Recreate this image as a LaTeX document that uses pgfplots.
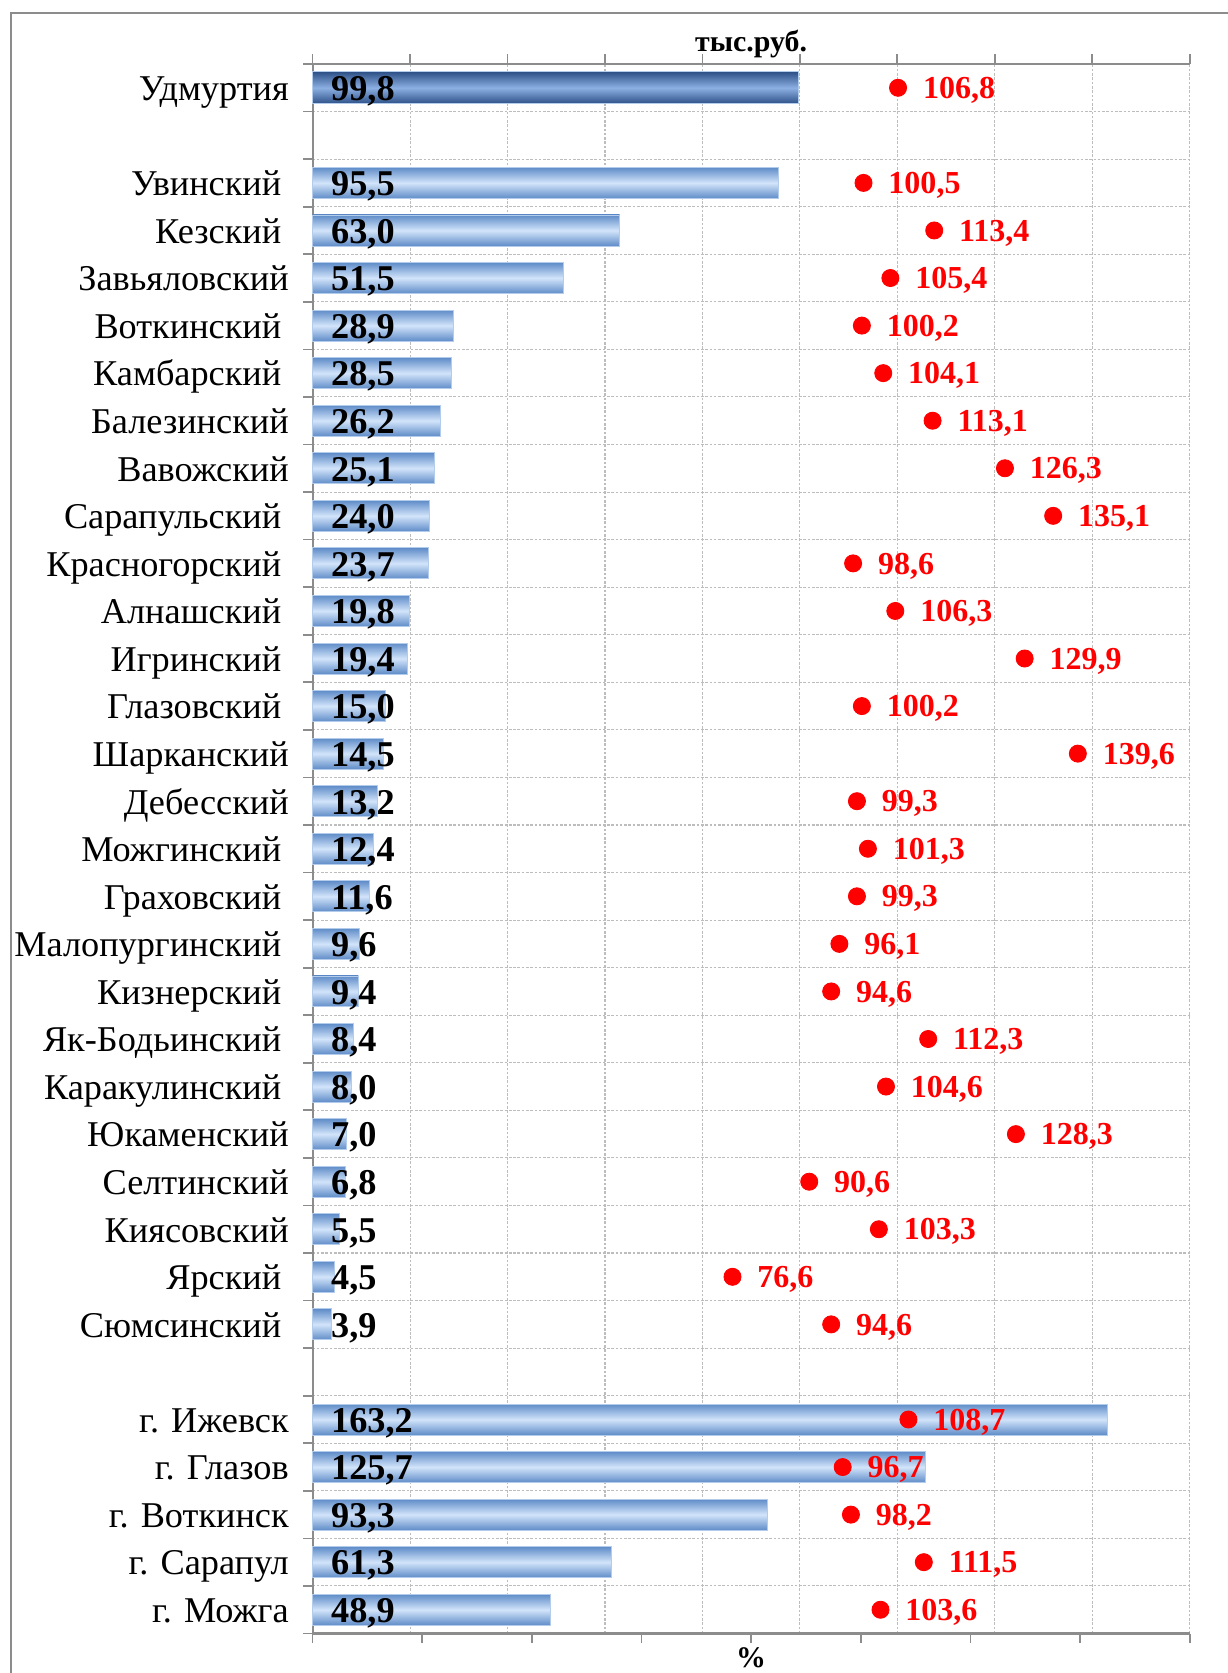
\documentclass[border=0pt]{standalone}
\usepackage{pgfplots}
\pgfplotsset{compat=1.18}
\usepackage{pgfplotstable}
\usepackage{fontspec}
\setmainfont{Liberation Serif}
\usetikzlibrary{calc}
\definecolor{axisgray}{HTML}{8C8C8C}
\definecolor{gridgray}{HTML}{BDBDBD}
\definecolor{baredge}{HTML}{5F8CC8}
\definecolor{barmid}{HTML}{D2E4FA}
\definecolor{udedge}{HTML}{2D5087}
\definecolor{udmid}{HTML}{8CB0E2}
\definecolor{barline}{HTML}{B4CCEC}
\def\pad{\kern3.5pt}

\pgfplotstableread{
y bar pct
30 95.5 100.5
29 63.0 113.4
28 51.5 105.4
27 28.9 100.2
26 28.5 104.1
25 26.2 113.1
24 25.1 126.3
23 24.0 135.1
22 23.7 98.6
21 19.8 106.3
20 19.4 129.9
19 15.0 100.2
18 14.5 139.6
17 13.2 99.3
16 12.4 101.3
15 11.6 99.3
14 9.6 96.1
13 9.4 94.6
12 8.4 112.3
11 8.0 104.6
10 7.0 128.3
9 6.8 90.6
8 5.5 103.3
7 4.5 76.6
6 3.9 94.6
4 163.2 108.7
3 125.7 96.7
2 93.3 98.2
1 61.3 111.5
0 48.9 103.6
}\regions
\pgfplotstableread{
y bar pct
32 99.8 106.8
}\republic

\pgfplotsset{common/.style={scale only axis, width=411pt, height=735.5pt,
  ymin=-0.5, ymax=32.5, tick align=outside, major tick length=4.5pt,
  axis line style={draw=axisgray, line width=1pt, -},
  tick style={draw=axisgray, line width=0.8pt},
  clip=false,
  /pgf/number format/.cd, fixed, fixed zerofill, precision=1, use comma, assume math mode=true}}

\begin{document}
\begin{tikzpicture}
\begin{axis}[common, name=ax1, at={(0,0)}, anchor=south west,
  xmin=0, xmax=180, xtick={0,20,...,180}, xticklabels={},
  axis x line*=top, axis y line*=left,
  ytick={-0.5,0.5,...,32.5}, yticklabels={},
  grid=major, grid style={draw=gridgray, line width=0.5pt, dash pattern=on 1.2pt off 0.8pt},
  extra y ticks={32,30,29,28,27,26,25,24,23,22,21,20,19,18,17,16,15,14,13,12,11,10,9,8,7,6,4,3,2,1,0},
  extra y tick labels={{Удмуртия},{Увинский\pad},{Кезский\pad},{Завьяловский},{Воткинский\pad},{Камбарский\pad},{Балезинский},{Вавожский},{Сарапульский\pad},{Красногорский\pad},{Алнашский\pad},{Игринский\pad},{Глазовский\pad},{Шарканский},{Дебесский},{Можгинский\pad},{Граховский\pad},{Малопургинский\pad},{Кизнерский\pad},{Як-Бодьинский\pad},{Каракулинский\pad},{Юкаменский},{Селтинский},{Киясовский},{Ярский\pad},{Сюмсинский\pad},{г. Ижевск},{г. Глазов},{г. Воткинск},{г. Сарапул},{г. Можга}},
  extra y tick style={major tick length=0pt, grid=none},
  yticklabel style={font=\fontsize{17}{20}\selectfont, anchor=base east, yshift=-6pt, inner sep=0pt, xshift=-11pt},
]
\pgfplotsinvokeforeach{0,...,29}{
\addplot[xbar, bar width=14.5pt, bar shift=0pt, draw=barline, line width=0.4pt,
  top color=baredge, bottom color=baredge, middle color=barmid,
  x filter/.code={\ifnum\coordindex=#1\relax\else\def\pgfmathresult{}\fi}] table[x=bar, y=y]{\regions};
}
\addplot[xbar, bar width=15pt, bar shift=0pt, draw=barline, line width=0.4pt,
  top color=udedge, bottom color=udedge, middle color=udmid] table[x=bar, y=y]{\republic};
\addplot[draw=none, nodes near coords, point meta=explicit,
  every node near coord/.append style={anchor=base west, xshift=8.5pt, yshift=-6pt, inner sep=0pt, font=\fontsize{17}{20}\bfseries\selectfont, text=black}]
  table[x expr=0, y=y, meta=bar]{\regions};
\addplot[draw=none, nodes near coords, point meta=explicit,
  every node near coord/.append style={anchor=base west, xshift=8.5pt, yshift=-6pt, inner sep=0pt, font=\fontsize{17}{20}\bfseries\selectfont, text=black}]
  table[x expr=0, y=y, meta=bar]{\republic};
\end{axis}
\begin{axis}[common, at={(0,0)}, anchor=south west,
  xmin=0, xmax=160, xtick={0,20,...,160}, xticklabels={},
  axis x line*=bottom, axis y line=none, ytick=\empty]
\addplot[only marks, mark=*, mark size=4pt, color=red, nodes near coords, point meta=explicit,
  every node near coord/.append style={anchor=base west, xshift=11.5pt, yshift=-5pt, inner sep=0pt, font=\fontsize{15}{18}\bfseries\selectfont, text=red}]
  table[x=pct, y=y, meta=pct]{\regions};
\addplot[only marks, mark=*, mark size=4pt, color=red, nodes near coords, point meta=explicit,
  every node near coord/.append style={anchor=base west, xshift=11.5pt, yshift=-5pt, inner sep=0pt, font=\fontsize{15}{18}\bfseries\selectfont, text=red}]
  table[x=pct, y=y, meta=pct]{\republic};
\end{axis}
\draw[axisgray, line width=1pt] ($(ax1.south west)+(-141.5pt,759.5pt)$) rectangle ++(800pt,-900pt);
\node[font=\fontsize{14}{16}\bfseries\selectfont, anchor=base, inner sep=0pt] at ($(ax1.north)+(0,6pt)$) {тыс.руб.};
\node[font=\fontsize{14}{16}\bfseries\selectfont, anchor=base, inner sep=0pt] at ($(ax1.south)+(0,-16pt)$) {\%};
\pgfresetboundingbox
\path[use as bounding box] ($(ax1.south west)+(-146.5pt,-18.5pt)$) rectangle ($(ax1.north east)+(17.5pt,30pt)$);
\end{tikzpicture}
\end{document}
